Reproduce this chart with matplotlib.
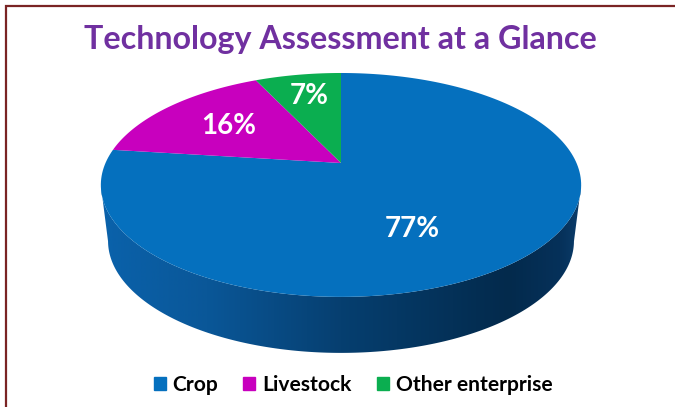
import numpy as np
import matplotlib
matplotlib.use('Agg')
import matplotlib.pyplot as plt
from matplotlib.colors import LinearSegmentedColormap
from matplotlib.patches import Polygon, Rectangle

plt.rcParams['font.family'] = ['Lato', 'DejaVu Sans']

categories = ['Crop', 'Livestock', 'Other enterprise']
shares = [77, 16, 7]
share_labels = ['77%', '16%', '7%']
colors = ['#0570BE', '#C800BE', '#0BAE50']
title = 'Technology Assessment at a Glance'

# where the pie sits on the page, in pixels
cx, apex_y, radius = 341, 163, 235.5
tilt, squash, depth = 0.196, -75.7, 56
label_pos = [(412, 229), (229, 126), (309, 96)]


def project(u, v):
    # flat pie coords to the tilted view, near side comes out bigger
    d = 1 + tilt * v
    return cx + radius * u / d, (apex_y + squash * v) / d


fig = plt.figure(figsize=(6.75, 4.07), dpi=100)
ax = fig.add_axes([0, 0, 1, 1])
ax.set_xlim(0, 675)
ax.set_ylim(407, 0)
ax.axis('off')

# side wall, shaded left to right
t = np.linspace(0, 2 * np.pi, 721)
rim_x, rim_y = project(np.cos(t), np.sin(t))
front = rim_y >= 185
fx, fy = rim_x[front], rim_y[front]
order = np.argsort(fx)
fx, fy = fx[order], fy[order]
wall = np.column_stack([
    np.r_[fx, cx + (fx[::-1] - cx) * 0.97],
    np.r_[fy, fy[::-1] + depth],
])
wall_patch = Polygon(wall, closed=True, facecolor='none', edgecolor='none')
ax.add_patch(wall_patch)
shade = LinearSegmentedColormap.from_list('wall', [
    (0.0, '#0A62AB'), (0.22, '#0A5798'), (0.5, '#063F70'),
    (0.85, '#032A4C'), (0.96, '#06315A'), (1.0, '#0B3D6B'),
])
img = ax.imshow(np.linspace(0, 1, 256).reshape(1, -1), cmap=shade, aspect='auto',
                extent=[101, 581, 407, 0], zorder=1)
img.set_clip_path(wall_patch)
ax.set_xlim(0, 675)
ax.set_ylim(407, 0)

# top face, clockwise from twelve o'clock
start = 90.0
for value, color in zip(shares, colors):
    sweep = value / sum(shares) * 360
    a = np.radians(np.linspace(start, start - sweep, 200))
    x, y = project(np.r_[0, np.cos(a)], np.r_[0, np.sin(a)])
    ax.fill(x, y, color=color, lw=0, zorder=2)
    start -= sweep

for text, (x, y) in zip(share_labels, label_pos):
    ax.text(x, y, text, color='white', fontsize=20, fontweight='bold',
            ha='center', va='center', zorder=3)

ax.text(340, 39, title, color='#7030A0', fontsize=23.2, fontweight='bold',
        ha='center', va='center')

handles = [Rectangle((0, 0), 1, 1, color=c) for c in colors]
ax.legend(handles, categories, loc='center', bbox_to_anchor=(353 / 675, 1 - 385 / 407),
          ncol=3, frameon=False, handlelength=0.57, handleheight=0.57,
          handletextpad=0.33, columnspacing=1.2,
          prop={'weight': 'bold', 'size': 15.1})

# frame: runs off the right and bottom of the page
border = '#7A2424'
ax.plot([675, 6, 6], [6, 6, 407], color=border, lw=1.6, solid_joinstyle='miter', zorder=4)

fig.savefig('out.png', dpi=100)
